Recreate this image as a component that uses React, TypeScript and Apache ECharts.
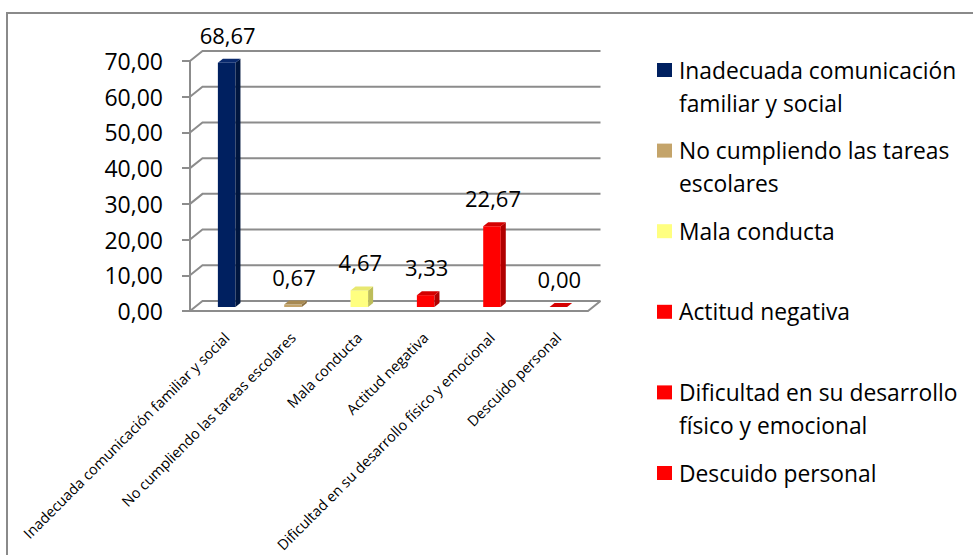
import React, { useEffect, useRef } from "react";
import * as echarts from "echarts";

const categories = [
  "Inadecuada comunicación familiar y social",
  "No cumpliendo las tareas escolares",
  "Mala conducta",
  "Actitud negativa",
  "Dificultad en su desarrollo físico y emocional",
  "Descuido personal",
];
const values = [68.67, 0.67, 4.67, 3.33, 22.67, 0.0];
const yTicks = [0, 10, 20, 30, 40, 50, 60, 70];
const legendLabels = [
  "Inadecuada comunicación\nfamiliar y social",
  "No cumpliendo las tareas\nescolares",
  "Mala conducta",
  "Actitud negativa",
  "Dificultad en su desarrollo\nfísico y emocional",
  "Descuido personal",
];

const frontColors = ["#002060", "#c4a46a", "#ffff80", "#ff0000", "#ff0000", "#ff0000"];
const sideColors = ["#00163f", "#8c7040", "#bdbd5a", "#b00000", "#b00000", "#b00000"];
const topColors = ["#0a2a6e", "#a88a52", "#e8e870", "#d40000", "#d40000", "#d40000"];

const FONT = "'Open Sans', sans-serif";
const GRID_COLOR = "#8c8c8c";
const DX = 12.5;
const DY = 10;
const BDX = 5;
const BDY = 4;

const fmt = (v: number) => v.toFixed(2).replace(".", ",");

export default function App() {
  const ref = useRef<HTMLDivElement>(null);
  useEffect(() => {
    document.body.style.margin = "0";
    if (!ref.current) return;
    const chart = echarts.init(ref.current, undefined, { renderer: "svg" });

    const legendGraphics: any[] = [];
    legendLabels.forEach((lab, i) => {
      const yc = 70 + i * 80.6;
      legendGraphics.push({
        type: "rect",
        shape: { x: 657, y: yc - 7, width: 15, height: 14 },
        style: { fill: frontColors[i] },
      });
      legendGraphics.push({
        type: "text",
        x: 679,
        y: yc - 16.5,
        style: {
          text: lab,
          font: `22.8px ${FONT}`,
          fill: "#000",
          lineHeight: 33,
          verticalAlign: "top",
          align: "left",
        },
      });
    });

    const option: any = {
      animation: false,
      backgroundColor: "#ffffff",
      grid: [
        { left: 190, top: 61, width: 398, height: 250 },
        { left: 193.5, top: 58, width: 398, height: 250 },
      ],
      xAxis: [
        { gridIndex: 0, type: "category", data: categories, show: false },
        {
          gridIndex: 1,
          type: "category",
          data: categories,
          axisLine: { show: false },
          axisTick: { show: false },
          axisLabel: {
            rotate: 45,
            interval: 0,
            fontSize: 14.5,
            fontFamily: FONT,
            color: "#000",
            margin: 28,
          },
        },
      ],
      yAxis: [
        {
          gridIndex: 0,
          type: "value",
          min: 0,
          max: 70,
          interval: 10,
          axisLine: { show: true, lineStyle: { color: GRID_COLOR, width: 2 } },
          axisTick: { show: true, length: 8, lineStyle: { color: GRID_COLOR, width: 2 } },
          splitLine: { show: false },
          axisLabel: {
            formatter: (v: number) => fmt(v),
            fontSize: 23,
            fontFamily: FONT,
            color: "#000",
            margin: 27,
          },
        },
        { gridIndex: 1, type: "value", min: 0, max: 70, interval: 10, show: false },
      ],
      series: [
        {
          type: "custom",
          name: "walls",
          xAxisIndex: 0,
          yAxisIndex: 0,
          silent: true,
          clip: false,
          z: 1,
          encode: { x: 0, y: 1 },
          data: yTicks.map((v) => [0, v]),
          renderItem: (params: any, api: any) => {
            const cs = params.coordSys;
            const y = api.coord([0, api.value(1)])[1];
            const left = cs.x;
            const right = cs.x + cs.width;
            const ls = { stroke: GRID_COLOR, lineWidth: 2, fill: null };
            const children: any[] = [
              {
                type: "polyline",
                shape: { points: [[left, y], [left + DX, y - DY], [right + DX, y - DY]] },
                style: ls,
              },
            ];
            if (api.value(1) === 0) {
              children.push({
                type: "polyline",
                shape: { points: [[left, y], [right, y], [right + DX, y - DY]] },
                style: ls,
              });
            }
            return { type: "group", children };
          },
        },
        {
          type: "custom",
          name: "bars",
          xAxisIndex: 1,
          yAxisIndex: 1,
          clip: false,
          z: 3,
          encode: { x: 0, y: 1 },
          data: values.map((v, i) => [i, v]),
          renderItem: (params: any, api: any) => {
            const i = params.dataIndex;
            const v = api.value(1);
            const base = api.coord([api.value(0), 0]);
            const top = api.coord([api.value(0), v]);
            const bw = api.size([1, 0])[0] * 0.265;
            const x0 = base[0] - bw / 2;
            const x1 = base[0] + bw / 2;
            const yb = base[1];
            const yt = top[1];
            return {
              type: "group",
              children: [
                {
                  type: "rect",
                  shape: { x: x0, y: yt, width: bw, height: yb - yt },
                  style: { fill: frontColors[i] },
                },
                {
                  type: "polygon",
                  shape: {
                    points: [
                      [x1, yt],
                      [x1 + BDX, yt - BDY],
                      [x1 + BDX, yb - BDY],
                      [x1, yb],
                    ],
                  },
                  style: { fill: sideColors[i] },
                },
                {
                  type: "polygon",
                  shape: {
                    points: [
                      [x0, yt],
                      [x0 + BDX, yt - BDY],
                      [x1 + BDX, yt - BDY],
                      [x1, yt],
                    ],
                  },
                  style: { fill: topColors[i] },
                },
                {
                  type: "text",
                  style: {
                    text: fmt(v),
                    x: base[0] + 1,
                    y: yt - 28,
                    align: "center",
                    verticalAlign: "middle",
                    font: `22px ${FONT}`,
                    fill: "#000",
                  },
                },
              ],
            };
          },
        },
      ],
      graphic: [
        {
          type: "polyline",
          shape: { points: [[7, 555], [7, 13], [973, 13]] },
          style: { stroke: "#8a8a8a", lineWidth: 2, fill: null },
          silent: true,
        },
        ...legendGraphics,
      ],
    };
    chart.setOption(option);
    return () => chart.dispose();
  }, []);
  return <div ref={ref} style={{ width: 973, height: 555 }} />;
}
